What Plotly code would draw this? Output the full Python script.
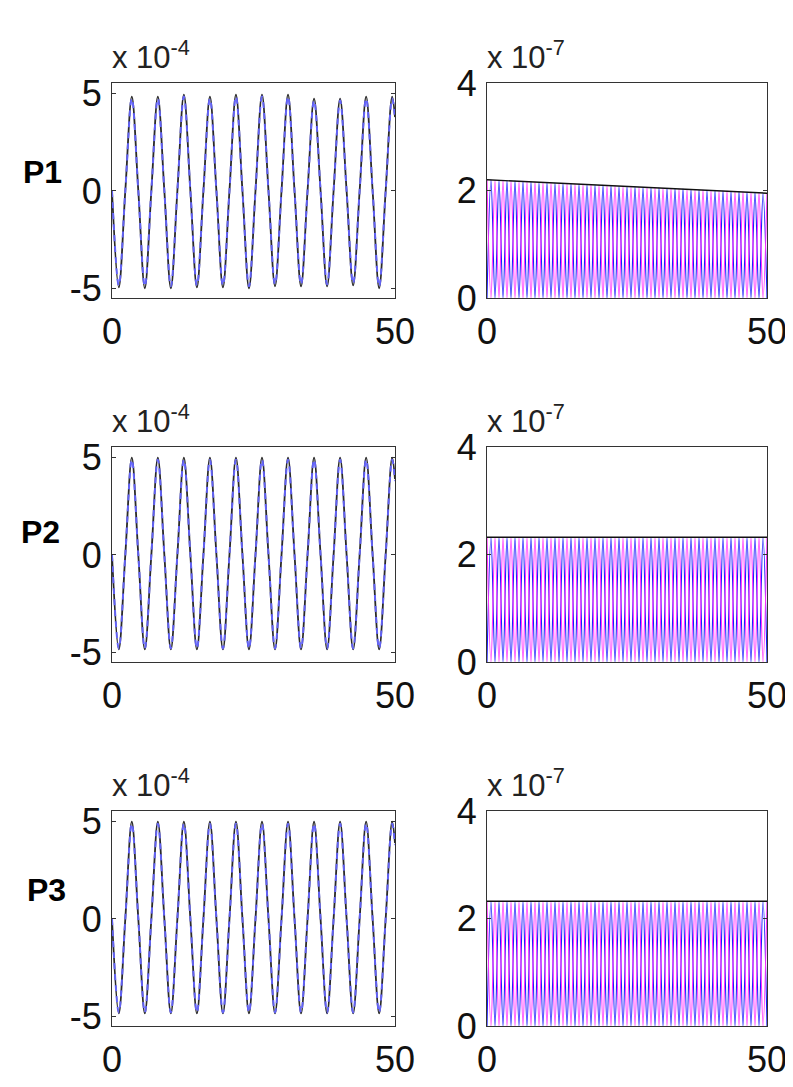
import plotly.graph_objects as go

# ---------------- data ----------------
# Left column: displacement-like signals, values in units of 1e-4
t_disp = [0, 1.2, 2.35, 3.5, 4.65, 5.8, 6.95, 8.1, 9.25, 10.4, 11.55, 12.7, 13.85, 15.0,
          16.15, 17.3, 18.45, 19.6, 20.75, 21.9, 23.05, 24.2, 25.35, 26.5, 27.65, 28.8,
          29.95, 31.1, 32.25, 33.4, 34.55, 35.7, 36.85, 38.0, 39.15, 40.3, 41.45, 42.6,
          43.75, 44.9, 46.05, 47.2, 48.35, 49.5, 50.0]

p1_black = [0, -4.95, 0, 4.85, 0, -5.0, 0, 4.85, 0, -5.0, 0, 4.95, 0, -4.95, 0, 4.85, 0,
            -4.95, 0, 4.95, 0, -5.0, 0, 4.95, 0, -4.9, 0, 4.95, 0, -4.9, 0, 4.75, 0, -4.9,
            0, 4.75, 0, -4.85, 0, 4.85, 0, -5.0, 0, 4.85, 3.8]
p1_blue = [0, -4.85, 0, 4.75, 0, -4.9, 0, 4.75, 0, -4.9, 0, 4.85, 0, -4.85, 0, 4.75, 0,
           -4.85, 0, 4.85, 0, -4.9, 0, 4.85, 0, -4.8, 0, 4.85, 0, -4.8, 0, 4.65, 0, -4.8,
           0, 4.65, 0, -4.75, 0, 4.75, 0, -4.9, 0, 4.75, 3.7]
p23_black = [0, -4.85, 0, 5.0, 0, -4.85, 0, 5.0, 0, -4.85, 0, 5.0, 0, -4.85, 0, 5.0, 0,
             -4.85, 0, 5.0, 0, -4.85, 0, 5.0, 0, -4.85, 0, 5.0, 0, -4.85, 0, 5.0, 0, -4.85,
             0, 5.0, 0, -4.85, 0, 5.0, 0, -4.85, 0, 5.0, 3.9]
p23_blue = [0, -4.8, 0, 4.9, 0, -4.8, 0, 4.9, 0, -4.8, 0, 4.9, 0, -4.8, 0, 4.9, 0,
            -4.8, 0, 4.9, 0, -4.8, 0, 4.9, 0, -4.8, 0, 4.9, 0, -4.8, 0, 4.9, 0, -4.8,
            0, 4.9, 0, -4.8, 0, 4.9, 0, -4.8, 0, 4.9, 3.8]

# Right column: energy-like signals, values in units of 1e-7
t_en = [0, 0.71, 1.43, 2.14, 2.86, 3.57, 4.29, 5.0, 5.71, 6.43, 7.14, 7.86, 8.57, 9.29,
        10.0, 10.71, 11.43, 12.14, 12.86, 13.57, 14.29, 15.0, 15.71, 16.43, 17.14, 17.86,
        18.57, 19.29, 20.0, 20.71, 21.43, 22.14, 22.86, 23.57, 24.29, 25.0, 25.71, 26.43,
        27.14, 27.86, 28.57, 29.29, 30.0, 30.71, 31.43, 32.14, 32.86, 33.57, 34.29, 35.0,
        35.71, 36.43, 37.14, 37.86, 38.57, 39.29, 40.0, 40.71, 41.43, 42.14, 42.86, 43.57,
        44.29, 45.0, 45.71, 46.43, 47.14, 47.86, 48.57, 49.29, 50.0]

p1_magenta = [2.20, 0, 2.19, 0, 2.19, 0, 2.18, 0, 2.17, 0, 2.16, 0, 2.16, 0, 2.15, 0, 2.14, 0,
              2.14, 0, 2.13, 0, 2.12, 0, 2.11, 0, 2.11, 0, 2.10, 0, 2.09, 0, 2.09, 0, 2.08, 0,
              2.07, 0, 2.06, 0, 2.06, 0, 2.05, 0, 2.04, 0, 2.04, 0, 2.03, 0, 2.02, 0, 2.01, 0,
              2.01, 0, 2.00, 0, 1.99, 0, 1.99, 0, 1.98, 0, 1.97, 0, 1.96, 0, 1.96, 0, 1.95]
p1_eblue = [0, 2.20, 0, 2.19, 0, 2.18, 0, 2.18, 0, 2.17, 0, 2.16, 0, 2.15, 0, 2.15, 0, 2.14,
            0, 2.13, 0, 2.13, 0, 2.12, 0, 2.11, 0, 2.10, 0, 2.10, 0, 2.09, 0, 2.08, 0, 2.08,
            0, 2.07, 0, 2.06, 0, 2.05, 0, 2.05, 0, 2.04, 0, 2.03, 0, 2.03, 0, 2.02, 0, 2.01,
            0, 2.00, 0, 2.00, 0, 1.99, 0, 1.98, 0, 1.98, 0, 1.97, 0, 1.96, 0, 1.95, 0]
p23_magenta = [2.32, 0, 2.32, 0, 2.32, 0, 2.32, 0, 2.32, 0, 2.32, 0, 2.32, 0, 2.32, 0, 2.32, 0,
               2.32, 0, 2.32, 0, 2.32, 0, 2.32, 0, 2.32, 0, 2.32, 0, 2.32, 0, 2.32, 0, 2.32, 0,
               2.32, 0, 2.32, 0, 2.32, 0, 2.32, 0, 2.32, 0, 2.32, 0, 2.32, 0, 2.32, 0, 2.32, 0,
               2.32, 0, 2.32, 0, 2.32, 0, 2.32, 0, 2.32, 0, 2.32, 0, 2.32, 0, 2.32, 0, 2.32]
p23_eblue = [0, 2.32, 0, 2.32, 0, 2.32, 0, 2.32, 0, 2.32, 0, 2.32, 0, 2.32, 0, 2.32, 0, 2.32,
             0, 2.32, 0, 2.32, 0, 2.32, 0, 2.32, 0, 2.32, 0, 2.32, 0, 2.32, 0, 2.32, 0, 2.32,
             0, 2.32, 0, 2.32, 0, 2.32, 0, 2.32, 0, 2.32, 0, 2.32, 0, 2.32, 0, 2.32, 0, 2.32,
             0, 2.32, 0, 2.32, 0, 2.32, 0, 2.32, 0, 2.32, 0, 2.32, 0, 2.32, 0, 2.32, 0]

t_total = [0, 50]
p1_total = [2.20, 1.95]
p23_total = [2.32, 2.32]

row_labels = ["P1", "P2", "P3"]
disp_scale = 1e-4
en_scale = 1e-7

left_black = [p1_black, p23_black, p23_black]
left_blue = [p1_blue, p23_blue, p23_blue]
right_mag = [p1_magenta, p23_magenta, p23_magenta]
right_blue = [p1_eblue, p23_eblue, p23_eblue]
right_total = [p1_total, p23_total, p23_total]

# ---------------- figure ----------------
# the page body has an 8px margin, so the figure is offset by (8, 8)
OFF = 8
W, H = 793 - OFF, 1087 - OFF
FONT = "Liberation Sans Narrow, Arial Narrow, Liberation Sans, Arial, sans-serif"

fig = go.Figure()

left_x = [(112 - OFF) / W, (395 - OFF) / W]
right_x = [(487 - OFF) / W, (767 - OFF) / W]
row_top = [83 - OFF, 447 - OFF, 811 - OFF]
row_h = 215


def axis_common():
    return dict(showline=True, linecolor="#333", linewidth=1, mirror="ticks",
                ticks="inside", ticklen=4, tickcolor="#333", showgrid=False,
                zeroline=False, automargin=False,
                tickfont=dict(family=FONT, size=36, color="#111"))


annotations = []
for r in range(3):
    top = row_top[r]
    ydom = [1 - (top + row_h) / H, 1 - top / H]
    ia = 2 * r + 1
    ib = 2 * r + 2
    xa_l, ya_l = f"x{ia}", f"y{ia}"
    xa_r, ya_r = f"x{ib}", f"y{ib}"

    fig.add_trace(go.Scatter(x=t_disp, y=[v * disp_scale for v in left_black[r]],
                             xaxis=xa_l, yaxis=ya_l, mode="lines",
                             line=dict(color="#2a2a2a", width=1.8, shape="spline"),
                             showlegend=False))
    fig.add_trace(go.Scatter(x=t_disp, y=[v * disp_scale for v in left_blue[r]],
                             xaxis=xa_l, yaxis=ya_l, mode="lines",
                             line=dict(color="rgba(100,100,255,0.95)", width=2.0,
                                       shape="spline", dash="6px,5px"),
                             showlegend=False))
    fig.add_trace(go.Scatter(x=t_en, y=[v * en_scale for v in right_blue[r]],
                             xaxis=xa_r, yaxis=ya_r, mode="lines",
                             line=dict(color="#1a1aff", width=1.1, shape="spline"),
                             showlegend=False))
    fig.add_trace(go.Scatter(x=t_en, y=[v * en_scale for v in right_mag[r]],
                             xaxis=xa_r, yaxis=ya_r, mode="lines",
                             line=dict(color="#ff30ff", width=1.1, shape="spline"),
                             showlegend=False))
    fig.add_trace(go.Scatter(x=t_total, y=[v * en_scale for v in right_total[r]],
                             xaxis=xa_r, yaxis=ya_r, mode="lines",
                             line=dict(color="#111", width=1.4),
                             showlegend=False))

    xl = axis_common()
    xl.update(domain=left_x, range=[0, 50], tickvals=[0, 50], ticktext=["0", "50"],
              anchor=ya_l, ticklabelstandoff=2)
    yl = axis_common()
    yl.update(domain=ydom, range=[-5.5e-4, 5.55e-4], tickvals=[-5e-4, 0, 5e-4],
              ticktext=["-5", "0", "5"], anchor=xa_l, ticklabelstandoff=2)
    xr = axis_common()
    xr.update(domain=right_x, range=[0, 50], tickvals=[0, 50], ticktext=["0", "50"],
              anchor=ya_r, ticklabelstandoff=2)
    yr = axis_common()
    yr.update(domain=ydom, range=[0, 4e-7], tickvals=[0, 2e-7, 4e-7],
              ticktext=["0", "2", "4"], anchor=xa_r, ticklabelstandoff=2)

    sfx_l = "" if ia == 1 else str(ia)
    fig.update_layout(**{f"xaxis{sfx_l}": xl, f"yaxis{sfx_l}": yl,
                         f"xaxis{ib}": xr, f"yaxis{ib}": yr})

    # exponent labels
    annotations.append(dict(x=(110 - OFF) / W, y=1 - (top - 6) / H, xref="paper",
                            yref="paper", xanchor="left", yanchor="bottom",
                            showarrow=False, text="x 10<sup>-4</sup>",
                            font=dict(family=FONT, size=31, color="#222")))
    annotations.append(dict(x=(485 - OFF) / W, y=1 - (top - 6) / H, xref="paper",
                            yref="paper", xanchor="left", yanchor="bottom",
                            showarrow=False, text="x 10<sup>-7</sup>",
                            font=dict(family=FONT, size=31, color="#222")))
    # row label
    lab_y = [172, 532, 890][r] - OFF
    lab_x = [42, 40, 46][r] - OFF
    annotations.append(dict(x=lab_x / W, y=1 - lab_y / H, xref="paper", yref="paper",
                            xanchor="center", yanchor="middle", showarrow=False,
                            text=f"<b>{row_labels[r]}</b>",
                            font=dict(family="Liberation Sans, Arial, sans-serif",
                                      size=32, color="#000")))

fig.update_layout(width=W, height=H, margin=dict(l=0, r=0, t=0, b=0),
                  paper_bgcolor="white", plot_bgcolor="white",
                  annotations=annotations, showlegend=False)

fig.write_html("out.html")
